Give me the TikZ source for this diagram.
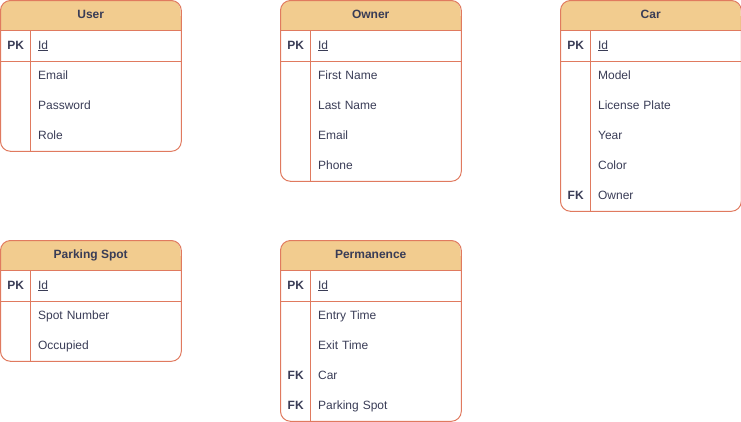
\documentclass[tikz,border=0pt]{standalone}
\usepackage{fontspec}
\setmainfont{Liberation Sans}
\usepackage{tikz}
\usetikzlibrary{positioning,calc}
\definecolor{EntStroke}{HTML}{E07A5F}
\definecolor{EntFill}{HTML}{F2CC8F}
\definecolor{EntText}{HTML}{393C56}

% one table: name, top left corner, title, number of rows, key/field list
\newcommand{\entity}[5]{%
  \fill[EntFill,rounded corners=10pt] (#2) rectangle ++(180,30);
  \fill[EntFill] ($(#2)+(0,15)$) rectangle ++(180,15);
  \node[hdr,anchor=north west] (#1) at (#2) {#3};
  \foreach \k/\f [count=\i] in {#5} {
    \node[keycell,anchor=north west] (#1-k\i) at ($(#1.south west)+(0,{30*(\i-1)})$) {\k};
    \node[fieldcell,right=0pt of #1-k\i] (#1-f\i) {\f};
  }
  \draw[ln] (#1.south west) -- (#1.south east);
  \draw[ln] (#1-k1.south west) -- (#1-f1.south east);
  \draw[ln] (#1-k1.north east) -- (#1-k#4.south east);
  \draw[ln,rounded corners=10pt] (#1.north west) rectangle (#1-f#4.south east);
}

\begin{document}
\begin{tikzpicture}[
  x=1pt, y=-1pt,
  every node/.style={text=EntText,font=\fontsize{12}{14}\selectfont,text height=9pt,text depth=3pt},
  hdr/.style={minimum width=180pt,minimum height=30pt,inner sep=0pt,font=\fontsize{12}{14}\selectfont\bfseries},
  keycell/.style={minimum width=30pt,minimum height=30pt,inner sep=0pt,font=\fontsize{12}{14}\selectfont\bfseries},
  fieldcell/.style={minimum height=30pt,inner xsep=7pt,inner ysep=0pt,text width=136pt,align=left},
  ln/.style={draw=EntStroke,line width=1pt}
]
  \useasboundingbox (0,0) rectangle (741,421);
  \entity{user}{0.5,0.5}{User}{4}{PK/\underline{Id}, {}/Email, {}/Password, {}/Role}
  \entity{owner}{280.5,0.5}{Owner}{5}{PK/\underline{Id}, {}/First Name, {}/Last Name, {}/Email, {}/Phone}
  \entity{car}{560.5,0.5}{Car}{6}{PK/\underline{Id}, {}/Model, {}/License Plate, {}/Year, {}/Color, FK/Owner}
  \entity{spot}{0.5,240.5}{Parking Spot}{3}{PK/\underline{Id}, {}/Spot Number, {}/Occupied}
  \entity{perm}{280.5,240.5}{Permanence}{5}{PK/\underline{Id}, {}/Entry Time, {}/Exit Time, FK/Car, FK/Parking Spot}
\end{tikzpicture}
\end{document}
